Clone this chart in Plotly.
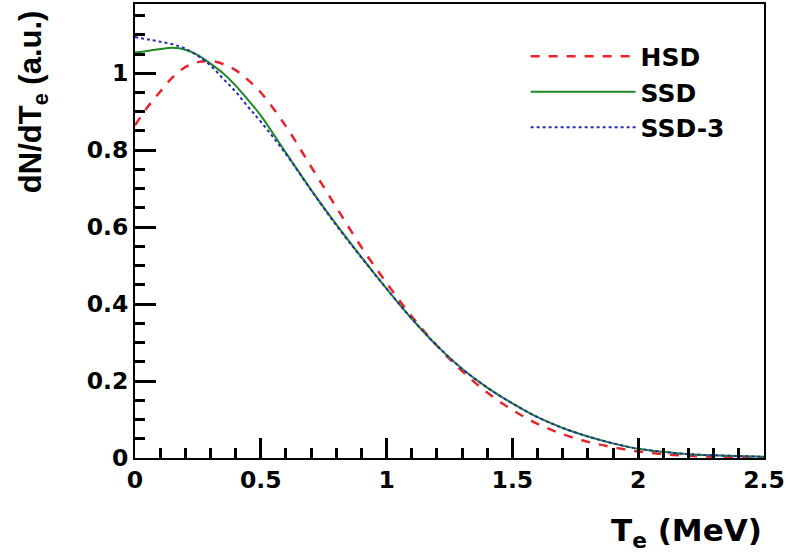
import plotly.graph_objects as go

# Electron kinetic energy T_e (MeV)
te = [0.0, 0.05, 0.1, 0.15, 0.2, 0.25, 0.3, 0.35, 0.4, 0.45, 0.5, 0.6, 0.7, 0.8, 0.9,
      1.0, 1.1, 1.2, 1.3, 1.4, 1.5, 1.6, 1.7, 1.8, 1.9, 2.0, 2.1, 2.2, 2.3, 2.4, 2.5]

hsd = [0.865, 0.912, 0.952, 0.990, 1.016, 1.029, 1.032, 1.024, 1.008, 0.982, 0.950, 0.862,
       0.757, 0.652, 0.548, 0.455, 0.368, 0.292, 0.226, 0.170, 0.125, 0.089, 0.062, 0.042,
       0.028, 0.017, 0.010, 0.006, 0.003, 0.002, 0.001]

ssd = [1.054, 1.058, 1.063, 1.066, 1.061, 1.047, 1.025, 1.000, 0.968, 0.930, 0.890, 0.793,
       0.697, 0.607, 0.522, 0.440, 0.362, 0.292, 0.232, 0.183, 0.142, 0.106, 0.078, 0.056,
       0.038, 0.024, 0.016, 0.010, 0.007, 0.005, 0.003]

ssd3 = [1.094, 1.088, 1.082, 1.075, 1.064, 1.045, 1.020, 0.986, 0.952, 0.912, 0.874, 0.790,
        0.696, 0.605, 0.521, 0.440, 0.362, 0.292, 0.232, 0.183, 0.142, 0.106, 0.078, 0.056,
        0.038, 0.024, 0.016, 0.010, 0.007, 0.005, 0.003]

series_names = ["HSD", "SSD", "SSD-3"]
x_ticks = [0, 0.5, 1, 1.5, 2, 2.5]
x_tick_labels = ["0", "0.5", "1", "1.5", "2", "2.5"]
y_ticks = [0, 0.2, 0.4, 0.6, 0.8, 1.0]
y_tick_labels = ["0", "0.2", "0.4", "0.6", "0.8", "1"]

WIDE = "DejaVu Sans, Liberation Sans, sans-serif"
NARROW = "Liberation Sans, Arial, sans-serif"

fig = go.Figure()
fig.add_trace(go.Scatter(x=te, y=hsd, name=series_names[0], mode="lines",
                         line=dict(color="#e8232b", width=2.5, dash="dash", shape="spline")))
fig.add_trace(go.Scatter(x=te, y=ssd, name=series_names[1], mode="lines",
                         line=dict(color="#1e8a22", width=2, shape="spline")))
fig.add_trace(go.Scatter(x=te, y=ssd3, name=series_names[2], mode="lines",
                         line=dict(color="#2a2ab8", width=2, dash="dot", shape="spline")))

axis_common = dict(
    showgrid=False, zeroline=False, showline=True, linecolor="black", linewidth=2,
    mirror=True, ticks="inside", tickcolor="black", tickwidth=2.5, automargin=False,
    ticklabeloverflow="allow",
    tickfont=dict(family=WIDE, size=23.5, color="black", weight="bold"),
)

fig.update_xaxes(range=[0, 2.5], tickvals=x_ticks, ticktext=x_tick_labels, ticklen=20,
                 minor=dict(dtick=0.1, ticks="inside", ticklen=10, tickwidth=2.5, tickcolor="black"),
                 **axis_common)
fig.update_yaxes(range=[0, 1.18], tickvals=y_ticks, ticktext=y_tick_labels, ticklen=21,
                 minor=dict(dtick=0.05, ticks="inside", ticklen=10, tickwidth=2.5, tickcolor="black"),
                 **axis_common)

fig.update_layout(
    width=785, height=556,
    margin=dict(l=135, r=21, t=4, b=98, autoexpand=False),
    paper_bgcolor="white", plot_bgcolor="white",
    showlegend=True,
    legend=dict(x=0.621, y=0.935, xanchor="left", yanchor="top",
                bgcolor="rgba(0,0,0,0)", itemwidth=105,
                font=dict(family=WIDE, size=25, color="black", weight="bold")),
    annotations=[
        dict(text="T<sub>e</sub> (MeV)", xref="paper", yref="paper", x=1.0, y=-0.163,
             xanchor="right", yanchor="middle", showarrow=False,
             font=dict(family=WIDE, size=31, color="black", weight="bold")),
        dict(text="dN/dT<sub>e</sub> (a.u.)", xref="paper", yref="paper", x=-0.162, y=0.99,
             xanchor="center", yanchor="top", textangle=-90, showarrow=False,
             font=dict(family=NARROW, size=31, color="black", weight="bold")),
    ],
)

fig.write_html("out.html", config={"displayModeBar": False},
               post_script="document.body.style.margin='0';")
